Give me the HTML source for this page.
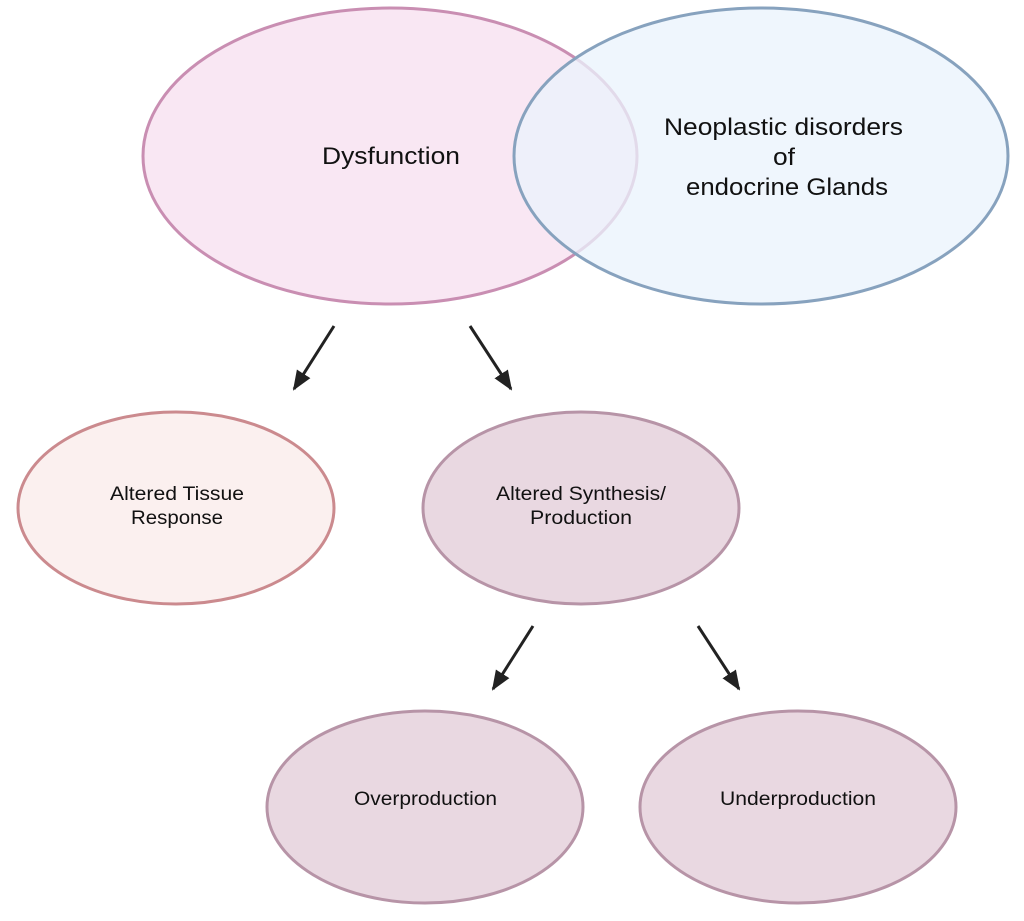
<!DOCTYPE html>
<html><head><style>body{margin:0;background:#fff}svg{display:block}</style></head><body>
<svg width="1024" height="921" viewBox="0 0 1024 921" xmlns="http://www.w3.org/2000/svg" font-family="Liberation Sans, sans-serif">
<defs>
<marker id="b" markerWidth="20" markerHeight="20" refX="18" refY="10" orient="auto" markerUnits="userSpaceOnUse" viewBox="0 0 20 20"><path d="M0,2 L20,10 L0,18 z" fill="#222"/></marker></defs>
<ellipse cx="390" cy="156" rx="247" ry="148" fill="#f9e7f3" stroke="#c98eb2" stroke-width="3"/>
<ellipse cx="761" cy="156" rx="247" ry="148" fill="#eaf3fc" fill-opacity="0.75" stroke="#87a2be" stroke-width="3"/>
<g font-size="24" fill="#111">
<text x="322" y="164" textLength="138" lengthAdjust="spacingAndGlyphs">Dysfunction</text>
<text x="664" y="135" textLength="239" lengthAdjust="spacingAndGlyphs">Neoplastic disorders</text>
<text x="773" y="165" textLength="22" lengthAdjust="spacingAndGlyphs">of</text>
<text x="686" y="195" textLength="202" lengthAdjust="spacingAndGlyphs">endocrine Glands</text>
</g>
<g stroke="#222" stroke-width="3">
<line x1="334" y1="326" x2="294" y2="389" marker-end="url(#b)"/>
<line x1="470" y1="326" x2="511" y2="389" marker-end="url(#b)"/>
<line x1="533" y1="626" x2="493" y2="689" marker-end="url(#b)"/>
<line x1="698" y1="626" x2="739" y2="689" marker-end="url(#b)"/>
</g>
<ellipse cx="176" cy="508" rx="158" ry="96" fill="#fbf0ef" stroke="#cb8a8e" stroke-width="3"/>
<ellipse cx="581" cy="508" rx="158" ry="96" fill="#e9d8e1" stroke="#b794a7" stroke-width="3"/>
<ellipse cx="425" cy="807" rx="158" ry="96" fill="#e9d8e1" stroke="#b794a7" stroke-width="3"/>
<ellipse cx="798" cy="807" rx="158" ry="96" fill="#e9d8e1" stroke="#b794a7" stroke-width="3"/>
<g font-size="19" fill="#111" lengthAdjust="spacingAndGlyphs">
<text x="110" y="500" textLength="134" lengthAdjust="spacingAndGlyphs">Altered Tissue</text>
<text x="131" y="524" textLength="92" lengthAdjust="spacingAndGlyphs">Response</text>
<text x="496" y="500" textLength="170" lengthAdjust="spacingAndGlyphs">Altered Synthesis/</text>
<text x="530" y="524" textLength="102" lengthAdjust="spacingAndGlyphs">Production</text>
<text x="354" y="805" textLength="143" lengthAdjust="spacingAndGlyphs">Overproduction</text>
<text x="720" y="805" textLength="156" lengthAdjust="spacingAndGlyphs">Underproduction</text>
</g>
</svg>
</body></html>
